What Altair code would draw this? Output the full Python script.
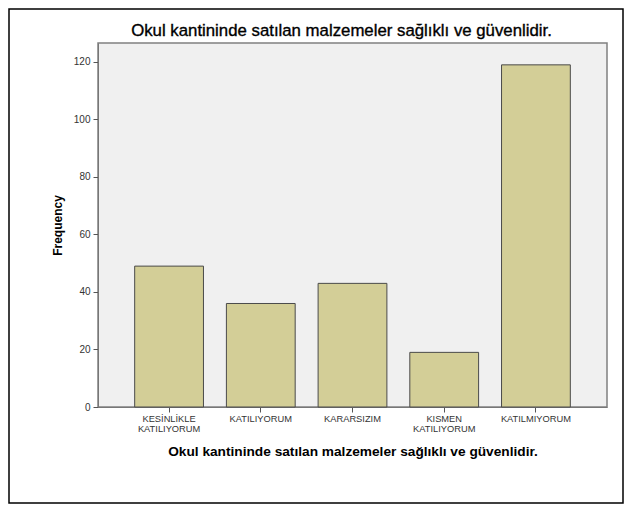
import altair as alt
import pandas as pd

categories = ["KESİNLİKLE\nKATILIYORUM", "KATILIYORUM", "KARARSIZIM", "KISMEN\nKATILIYORUM", "KATILMIYORUM"]
frequencies = [49, 36, 43, 19, 119]
y_ticks = [0, 20, 40, 60, 80, 100, 120]
title_text = "Okul kantininde satılan malzemeler sağlıklı ve güvenlidir."

df = pd.DataFrame({"cat": categories, "freq": frequencies})

W, H = 509, 364
FONT = "Liberation Sans"

bars = alt.Chart(df).mark_bar(
    color="#d3ce97", stroke="#4a4a4a", strokeWidth=1
).encode(
    x=alt.X("cat:N", sort=categories,
            scale=alt.Scale(paddingInner=0.25, paddingOuter=0.4),
            axis=alt.Axis(title=title_text, labelAngle=0,
                          labelExpr="split(datum.label, '\\n')",
                          labelFont=FONT, labelFontSize=9.3, labelColor="#333",
                          labelLineHeight=10, labelPadding=2,
                          tickSize=5, tickColor="#555", domainColor="#777",
                          titleFont=FONT, titleFontSize=13.7, titleFontWeight="bold",
                          titleColor="#000", titlePadding=11)),
    y=alt.Y("freq:Q", scale=alt.Scale(domain=[0, 126.6], nice=False),
            axis=alt.Axis(title="Frequency", values=y_ticks, grid=False,
                          labelFont=FONT, labelFontSize=10, labelColor="#333",
                          labelPadding=3, tickSize=5, tickColor="#555",
                          domainColor="#777",
                          titleFont=FONT, titleFontSize=12, titleFontWeight="bold",
                          titleColor="#000", titlePadding=9)),
)

title_mark = alt.Chart(pd.DataFrame({"t": [title_text]})).mark_text(
    font=FONT, fontSize=16.8, color="#000", align="center", baseline="middle",
    stroke="#000", strokeWidth=0.35
).encode(
    text="t:N", x=alt.value(243.5), y=alt.value(-12),
)

frame = alt.Chart(pd.DataFrame({"a": [0]})).mark_rect(
    fill=None, stroke="#000", strokeWidth=1.5, clip=False
).encode(
    x=alt.value(-89), x2=alt.value(525),
    y=alt.value(-34), y2=alt.value(460),
)

chart = alt.layer(bars, title_mark, frame).properties(
    width=W, height=H,
    padding={"left": 90, "top": 35, "right": 17, "bottom": 97},
    autosize=alt.AutoSizeParams(type="none"),
    background="white",
).configure_view(
    fill="#f0f0f0", stroke="#808080", strokeWidth=1.5
)

chart.save("out.html", embed_options={"renderer": "svg", "actions": False})
